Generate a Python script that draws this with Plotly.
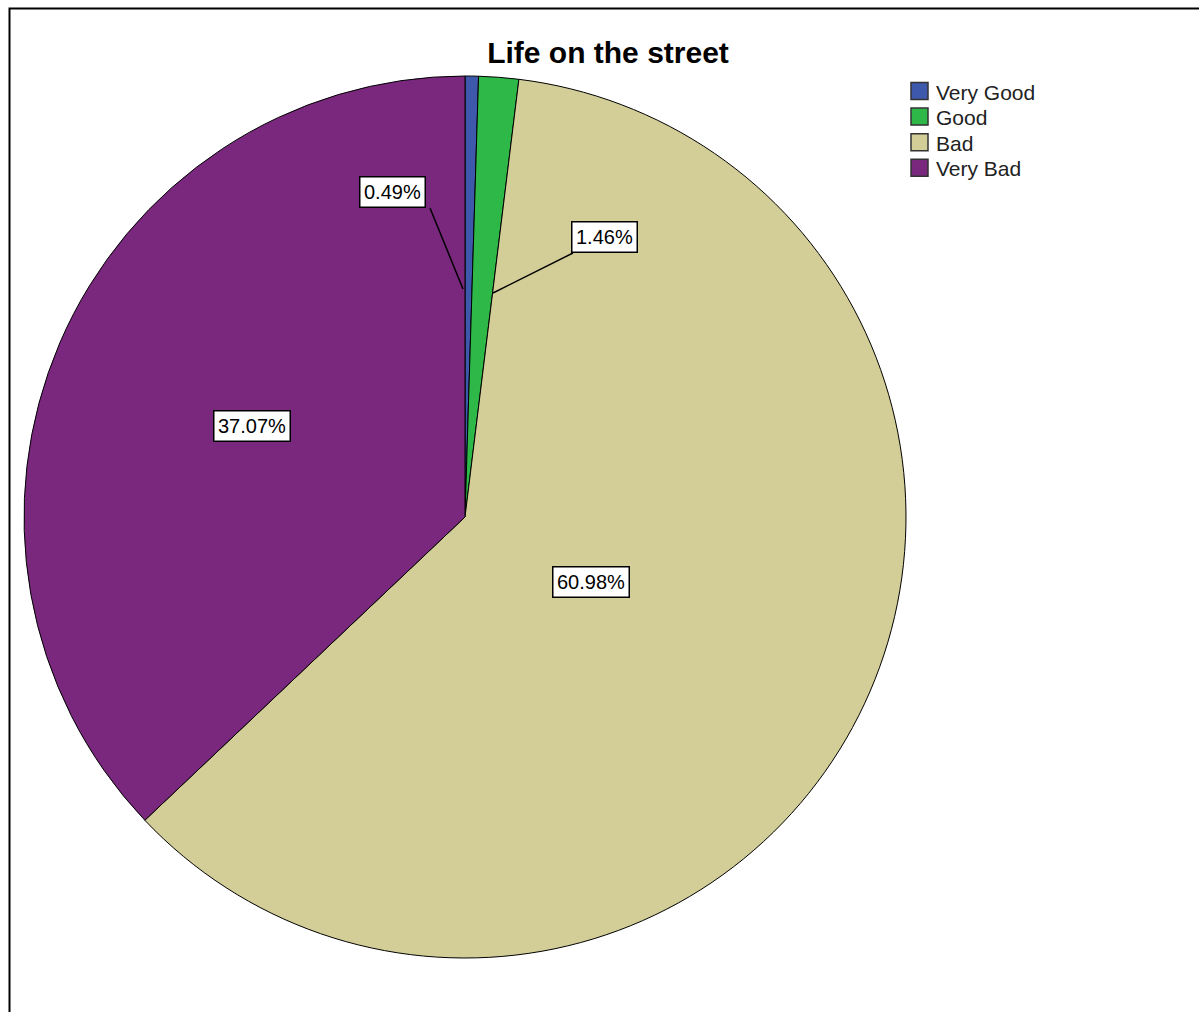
import plotly.graph_objects as go

# Survey responses: "Life on the street"
categories = ["Very Good", "Good", "Bad", "Very Bad"]
percentages = [0.49, 1.46, 60.98, 37.07]
colors = ["#3E58AC", "#2EB848", "#D3CE97", "#79287D"]

W, H = 1199, 1012


def px(x):
    return x / W


def py(y):
    return 1 - y / H


# Pie geometry in pixels
cx, cy, r = 465, 517, 441

fig = go.Figure(
    go.Pie(
        labels=categories,
        values=percentages,
        marker=dict(colors=colors, line=dict(color="#000000", width=1)),
        sort=False,
        direction="clockwise",
        rotation=0,
        textinfo="none",
        hoverinfo="label+percent",
        showlegend=False,
        domain=dict(x=[px(cx - r), px(cx + r)], y=[py(cy + r), py(cy - r)]),
    )
)

font_family = "Liberation Sans, Arial, sans-serif"

# Value label boxes (center positions in pixels) and optional leader lines
label_pos = {
    "Very Good": (392, 192),
    "Good": (604, 237),
    "Bad": (591, 582),
    "Very Bad": (252, 426),
}
leaders = {
    "Very Good": ((430, 208), (463, 289)),
    "Good": ((573, 253), (493, 293)),
}

shapes = []
annotations = []

for cat, val in zip(categories, percentages):
    x, y = label_pos[cat]
    if cat in leaders:
        (x0, y0), (x1, y1) = leaders[cat]
        shapes.append(dict(type="line", xref="paper", yref="paper",
                           x0=px(x0), y0=py(y0), x1=px(x1), y1=py(y1),
                           line=dict(color="#000000", width=1.5)))
    annotations.append(dict(
        x=px(x), y=py(y), xref="paper", yref="paper",
        text=f"{val:.2f}%", showarrow=False,
        font=dict(family=font_family, size=20, color="#000000"),
        bgcolor="#FFFFFF", bordercolor="#000000", borderwidth=1.5, borderpad=3.5,
        xanchor="center", yanchor="middle",
    ))

# Legend: swatches with category names
leg_x, leg_y0, leg_step, sw = 911, 91, 25.6, 17
for i, (cat, col) in enumerate(zip(categories, colors)):
    yc = leg_y0 + i * leg_step
    shapes.append(dict(type="rect", xref="paper", yref="paper",
                       x0=px(leg_x), x1=px(leg_x + sw),
                       y0=py(yc + sw / 2), y1=py(yc - sw / 2),
                       fillcolor=col, line=dict(color="#333333", width=1.5)))
    annotations.append(dict(
        x=px(leg_x + sw + 6), y=py(yc + 1), xref="paper", yref="paper",
        text=cat, showarrow=False, xanchor="left", yanchor="middle",
        font=dict(family=font_family, size=21, color="#222222"),
    ))

# Outer frame
shapes.append(dict(type="rect", xref="paper", yref="paper",
                   x0=px(9.5), y0=py(1030), x1=px(1220), y1=py(8.5),
                   line=dict(color="#000000", width=2), layer="below"))

fig.update_layout(
    width=W, height=H,
    margin=dict(l=0, r=0, t=0, b=0),
    paper_bgcolor="#FFFFFF",
    plot_bgcolor="#FFFFFF",
    title=dict(text="<b>Life on the street</b>", x=px(608), y=py(52),
               xanchor="center", yanchor="middle",
               font=dict(family=font_family, size=30, color="#000000")),
    shapes=shapes,
    annotations=annotations,
)

fig.write_html("out.html")
